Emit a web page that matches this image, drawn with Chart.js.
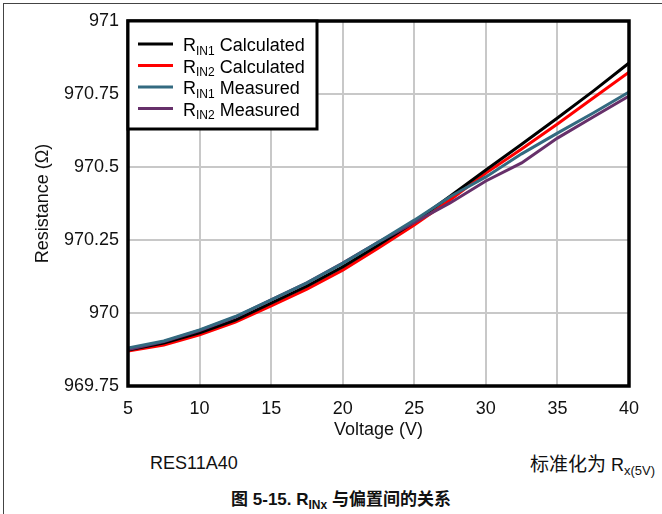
<!DOCTYPE html>
<html>
<head>
<meta charset="utf-8">
<script src="https://cdn.jsdelivr.net/npm/chart.js@4/dist/chart.umd.min.js"></script>
<style>
  html, body { margin: 0; padding: 0; background: #fff; }
  body { width: 662px; height: 514px; position: relative; overflow: hidden; font-family: Arial, "Liberation Sans", "Noto Sans CJK SC", sans-serif; color: #111; }
  #frame { position: absolute; left: 3px; top: 3px; right: -5px; bottom: -5px; border-top: 1px solid #444; border-left: 1px solid #444; }
  #chart { position: absolute; left: 0; top: 0; }
  .note { position: absolute; font-size: 18px; line-height: 22px; white-space: nowrap; }
  .cjk { font-family: "Noto Sans CJK SC", sans-serif; font-size: 19px; }
  .note sub { font-size: 13px; vertical-align: -4px; line-height: 0; }
  .caption sub { font-size: 12px; vertical-align: -4px; line-height: 0; }
  .caption { position: absolute; left: 10px; width: 662px; top: 489px; text-align: center; font-size: 17px; line-height: 22px; font-weight: bold; font-family: Arial, "Noto Sans CJK SC", sans-serif; }
</style>
</head>
<body>
<div id="frame"></div>
<canvas id="chart" width="662" height="445"></canvas>
<div class="note" style="left:150px; top:452px;">RES11A40</div>
<div class="note" style="right:7px; top:452px;"><span class="cjk">标准化为</span> R<sub>x(5V)</sub></div>
<div class="caption">图 5-15. R<sub>INx</sub> 与偏置间的关系</div>
<script>
// data
const voltages = [5, 7.5, 10, 12.5, 15, 17.5, 20, 22.5, 25, 27.5, 30, 32.5, 35, 37.5, 40];
const rin1Calculated = [969.873, 969.897, 969.932, 969.976, 970.034, 970.092, 970.158, 970.233, 970.312, 970.400, 970.490, 970.578, 970.668, 970.760, 970.856];
const rin2Calculated = [969.870, 969.890, 969.925, 969.969, 970.024, 970.082, 970.147, 970.223, 970.301, 970.387, 970.479, 970.562, 970.647, 970.736, 970.825];
const rin1Measured = [969.880, 969.904, 969.942, 969.988, 970.045, 970.103, 970.170, 970.243, 970.318, 970.398, 970.466, 970.545, 970.616, 970.685, 970.757];
const rin2Measured = [969.875, 969.902, 969.940, 969.986, 970.045, 970.103, 970.171, 970.243, 970.310, 970.377, 970.452, 970.514, 970.599, 970.671, 970.743];

// legend labels split as [main, subscript, rest]
const seriesLabels = [
  ["R", "IN1", " Calculated"],
  ["R", "IN2", " Calculated"],
  ["R", "IN1", " Measured"],
  ["R", "IN2", " Measured"],
];
const seriesColors = ["#000000", "#ff0000", "#336a80", "#66306a"];
const seriesValues = [rin1Calculated, rin2Calculated, rin1Measured, rin2Measured];
const drawOrder = [2, 3, 0, 1];

const xTicks = { min: 5, max: 40, step: 5 };
const yTicks = { min: 969.75, max: 971, step: 0.25 };

const toPoints = (values) => values.map((v, i) => ({ x: voltages[i], y: v }));

// plot frame and the boxed legend with subscripts
const frameAndLegend = {
  id: "frameAndLegend",
  afterDatasetsDraw(chart) {
    const { ctx, chartArea: a } = chart;
    ctx.save();
    ctx.strokeStyle = "#000";
    ctx.lineWidth = 3.5;
    ctx.strokeRect(a.left, a.top, a.right - a.left, a.bottom - a.top);

    const w = 189, h = 108;
    ctx.fillStyle = "#fff";
    ctx.fillRect(a.left, a.top, w, h);
    ctx.lineWidth = 3;
    ctx.strokeRect(a.left, a.top, w, h);

    chart.data.datasets.forEach((ds, i) => {
      const y = a.top + 23 + i * 21.5;
      ctx.strokeStyle = ds.borderColor;
      ctx.lineWidth = 3;
      ctx.beginPath();
      ctx.moveTo(a.left + 10, y);
      ctx.lineTo(a.left + 45, y);
      ctx.stroke();

      const [main, sub, rest] = ds.parts;
      const base = y + 7;
      let x = a.left + 55;
      ctx.fillStyle = "#000";
      ctx.textBaseline = "alphabetic";
      ctx.textAlign = "left";
      ctx.font = "18px Arial";
      ctx.fillText(main, x, base);
      x += ctx.measureText(main).width;
      ctx.font = "12px Arial";
      ctx.fillText(sub, x, base + 3.5);
      x += ctx.measureText(sub).width;
      ctx.font = "18px Arial";
      ctx.fillText(rest, x, base);
    });
    ctx.restore();
  },
};

const ctx = document.getElementById("chart").getContext("2d");
new Chart(ctx, {
  type: "line",
  data: {
    datasets: seriesValues.map((values, i) => ({
      label: seriesLabels[i].join(""),
      parts: seriesLabels[i],
      data: toPoints(values),
      borderColor: seriesColors[i],
      backgroundColor: seriesColors[i],
      borderWidth: 3,
      pointRadius: 0,
      tension: 0,
      order: drawOrder[i],
    })),
  },
  options: {
    responsive: false,
    animation: false,
    layout: { padding: { left: 0, right: 33, top: 21, bottom: 0 } },
    plugins: { legend: { display: false }, tooltip: { enabled: false } },
    scales: {
      x: {
        type: "linear",
        min: xTicks.min,
        max: xTicks.max,
        afterFit: (scale) => { scale.height = 59; },
        border: { display: false },
        grid: { color: "#c8c8c8", lineWidth: 2, drawTicks: false },
        ticks: { stepSize: xTicks.step, padding: 12, color: "#111", font: { family: "Arial", size: 18 } },
        title: { display: true, text: "Voltage (V)", color: "#111", font: { family: "Arial", size: 18 }, padding: { top: 0, bottom: 4 } },
      },
      y: {
        min: yTicks.min,
        max: yTicks.max,
        afterFit: (scale) => { scale.width = 128; },
        border: { display: false },
        grid: { color: "#c8c8c8", lineWidth: 2, drawTicks: false },
        ticks: {
          stepSize: yTicks.step,
          padding: 9,
          color: "#111",
          font: { family: "Arial", size: 18 },
          callback: (v) => String(+v.toFixed(2)),
        },
        title: { display: true, text: "Resistance (Ω)", color: "#111", font: { family: "Arial", size: 18 }, padding: { top: 32, bottom: 0 } },
      },
    },
  },
  plugins: [frameAndLegend],
});
</script>
</body>
</html>
